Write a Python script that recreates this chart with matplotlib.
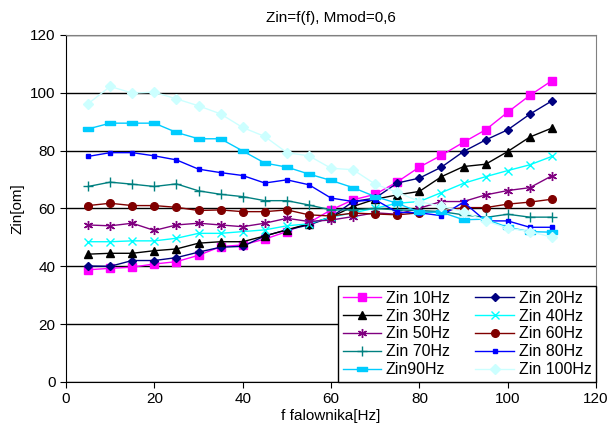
import matplotlib
matplotlib.use("Agg")
import matplotlib.pyplot as plt

plt.rcParams['font.family'] = ['Liberation Sans', 'DejaVu Sans']

f = [5, 10, 15, 20, 25, 30, 35, 40, 45, 50, 55, 60, 65, 70, 75, 80, 85, 90, 95, 100, 105, 110]

zin10 = [38.8, 39.3, 39.7, 40.8, 41.6, 43.8, 46.8, 47.4, 49.4, 52.0, 55.1, 59.5, 63.0, 64.9, 69.2, 74.3, 78.4, 82.9, 87.2, 93.3, 99.1, 104.2]
zin20 = [40.1, 40.0, 42.0, 42.0, 43.0, 44.9, 46.6, 46.9, 50.5, 52.6, 54.3, 57.0, 62.4, 63.6, 68.8, 70.5, 74.3, 79.7, 83.7, 87.2, 92.6, 97.2]
zin30 = [44.2, 44.5, 44.5, 45.4, 46.0, 48.0, 48.5, 48.5, 50.5, 52.6, 54.7, 57.0, 60.7, 63.2, 64.7, 65.9, 71.0, 74.5, 75.3, 79.7, 84.7, 87.8]
zin40 = [48.5, 48.5, 48.8, 48.8, 49.7, 51.4, 51.4, 52.0, 52.6, 54.0, 54.7, 57.0, 58.5, 60.1, 61.8, 62.4, 65.5, 68.7, 71.0, 73.1, 75.1, 78.0]
zin50 = [54.3, 54.0, 54.9, 52.4, 54.3, 54.9, 54.3, 53.7, 54.9, 56.6, 55.5, 56.0, 57.2, 58.5, 58.0, 60.1, 62.4, 62.4, 64.7, 66.2, 67.2, 71.3]
zin60 = [61.0, 61.8, 61.0, 61.0, 60.4, 59.3, 59.5, 58.9, 58.9, 59.5, 57.8, 57.4, 58.4, 58.1, 57.8, 58.5, 59.0, 60.3, 60.3, 61.5, 62.2, 63.2]
zin70 = [67.6, 69.1, 68.4, 67.6, 68.5, 66.1, 64.9, 64.1, 62.7, 62.7, 61.2, 59.5, 59.5, 60.0, 59.5, 59.3, 58.9, 57.8, 56.9, 58.0, 57.0, 57.0]
zin80 = [78.0, 79.3, 79.3, 78.2, 76.8, 73.6, 72.4, 71.4, 68.8, 69.9, 68.2, 63.6, 62.4, 63.0, 58.7, 58.5, 57.5, 62.2, 55.7, 55.7, 53.5, 53.5]
zin90 = [87.5, 89.5, 89.5, 89.5, 86.3, 84.1, 84.1, 79.9, 75.7, 74.3, 71.9, 69.7, 67.2, 64.1, 61.8, 58.7, 58.7, 56.1, 56.3, 53.5, 52.0, 51.8]
zin100 = [96.2, 102.2, 99.9, 100.2, 97.9, 95.5, 92.7, 88.0, 84.9, 79.3, 78.2, 73.9, 73.4, 68.4, 65.6, 62.4, 60.7, 58.9, 55.7, 53.2, 52.0, 50.1]

rect = [(-1, -0.5), (1, -0.5), (1, 0.5), (-1, 0.5), (-1, -0.5)]

series = [
    ("Zin 10Hz", zin10, "#FF00FF", "s", 5.5),
    ("Zin 20Hz", zin20, "#000080", "D", 4.5),
    ("Zin 30Hz", zin30, "#000000", "^", 5.5),
    ("Zin 40Hz", zin40, "#00FFFF", "x", 5.5),
    ("Zin 50Hz", zin50, "#800080", (6, 2, 0), 6.5),
    ("Zin 60Hz", zin60, "#800000", "o", 5.5),
    ("Zin 70Hz", zin70, "#008080", "+", 6.5),
    ("Zin 80Hz", zin80, "#0000FF", "s", 3.5),
    ("Zin90Hz", zin90, "#00CCFF", rect, 7),
    ("Zin 100Hz", zin100, "#CCFFFF", "D", 5),
]

fig = plt.figure(figsize=(6.07, 4.37), dpi=100)
ax = fig.add_axes([0.1087, 0.1259, 0.8733, 0.7941])

handles = []
for name, vals, col, mk, ms in series:
    h, = ax.plot(f, vals, color=col, marker=mk, markersize=ms, linewidth=1,
                 markeredgecolor=col, markerfacecolor=col, label=name)
    handles.append(h)

ax.set_xlim(0, 120)
ax.set_ylim(0, 120)
ax.set_xticks(range(0, 121, 20))
ax.set_yticks(range(0, 121, 20))
ax.yaxis.grid(True, color="#000000", linewidth=1)
ax.set_axisbelow(True)
ax.tick_params(labelsize=11, length=4, direction="out")
ax.spines['top'].set_color("#808080")
ax.spines['right'].set_color("#808080")

ax.set_xlabel("f falownika[Hz]", fontsize=11, labelpad=2)
ax.set_ylabel("Zin[om]", fontsize=11, labelpad=4)
ax.set_title("Zin=f(f), Mmod=0,6", fontsize=11, pad=9, x=0.5)

# row-wise order: first column gets 10,30,50,70,90
order = handles[0::2] + handles[1::2]
leg = ax.legend(handles=order, loc="lower right", ncol=2, fontsize=11.5,
                frameon=True, fancybox=False, edgecolor="#000000",
                framealpha=1, borderaxespad=0, handlelength=2.4,
                handletextpad=0.3, columnspacing=1.6, labelspacing=0.18,
                borderpad=0.3)
leg.get_frame().set_linewidth(1)

fig.savefig("out.png", dpi=100)
